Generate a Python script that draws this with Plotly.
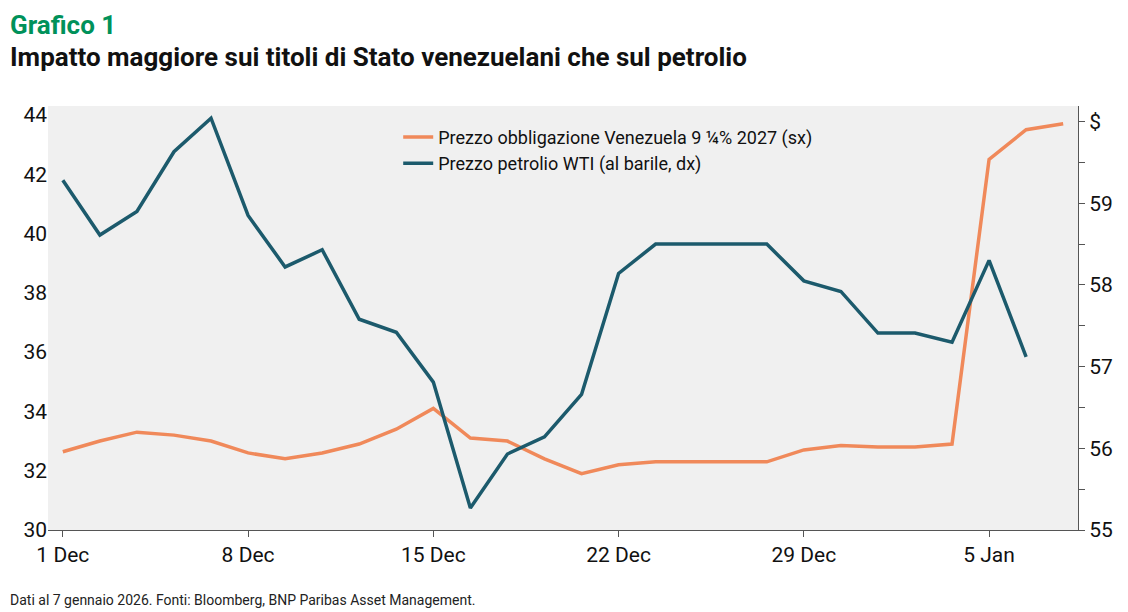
import plotly.graph_objects as go

dates = ["1 Dec", "2 Dec", "3 Dec", "4 Dec", "5 Dec", "8 Dec", "9 Dec", "10 Dec", "11 Dec", "12 Dec",
         "15 Dec", "16 Dec", "17 Dec", "18 Dec", "19 Dec", "22 Dec", "23 Dec", "24 Dec", "25 Dec", "26 Dec",
         "29 Dec", "30 Dec", "31 Dec", "1 Jan", "2 Jan", "5 Jan", "6 Jan", "7 Jan"]
bond = [32.64, 33.0, 33.3, 33.2, 33.0, 32.6, 32.4, 32.6, 32.9, 33.4,
        34.1, 33.1, 33.0, 32.4, 31.9, 32.2, 32.3, 32.3, 32.3, 32.3,
        32.7, 32.85, 32.8, 32.8, 32.9, 42.5, 43.5, 43.7]
wti = [59.28, 58.61, 58.90, 59.63, 60.04, 58.85, 58.22, 58.43, 57.58, 57.42,
       56.81, 55.27, 55.93, 56.14, 56.66, 58.14, 58.50, 58.50, 58.50, 58.50,
       58.05, 57.92, 57.41, 57.41, 57.30, 58.30, 57.12]
tick_idx = [0, 5, 10, 15, 20, 25]

orange = "#f0895a"
teal = "#1c5a6c"

fig = go.Figure()
fig.add_trace(go.Scatter(x=list(range(len(bond))), y=bond, mode="lines",
                         line=dict(color=orange, width=3.5),
                         name="Prezzo obbligazione Venezuela 9 ¼% 2027 (sx)"))
fig.add_trace(go.Scatter(x=list(range(len(wti))), y=wti, mode="lines",
                         line=dict(color=teal, width=3.5), yaxis="y2",
                         name="Prezzo petrolio WTI (al barile, dx)"))

fig.update_layout(
    width=1128, height=612,
    margin=dict(l=40, r=58, t=98, b=90),
    paper_bgcolor="white", plot_bgcolor="#f0f0f0",
    font=dict(family="Roboto", color="#111", size=20),
    showlegend=True,
    legend=dict(x=0.34, y=0.97, xanchor="left", yanchor="top", bgcolor="rgba(0,0,0,0)",
                font=dict(size=18), tracegroupgap=20),
    xaxis=dict(range=[-0.4, 27.4], tickmode="array", tickvals=tick_idx,
               ticktext=[dates[i] for i in tick_idx], showgrid=False, zeroline=False,
               showline=True, linecolor="#555", ticks="outside", tickcolor="#555",
               ticklen=6, tickfont=dict(size=21)),
    yaxis=dict(range=[30, 44.3], tickvals=list(range(30, 45, 2)), showgrid=False,
               zeroline=False, showline=False, ticks="", tickfont=dict(size=21)),
    yaxis2=dict(range=[55, 60.19], overlaying="y", side="right",
                tickvals=[55, 56, 57, 58, 59, 60], ticktext=["55", "56", "57", "58", "59", "$"],
                showgrid=False, zeroline=False, showline=True, linecolor="#555",
                ticks="outside", tickcolor="#555", ticklen=6, tickfont=dict(size=21),
                minor=dict(tickvals=[55.5, 56.5, 57.5, 58.5, 59.5], ticks="outside",
                           ticklen=6, tickcolor="#555")),
)

fig.add_annotation(text="<b>Grafico 1</b>", x=0, y=1, xref="paper", yref="paper",
                   xshift=-40, yshift=98, xanchor="left", yanchor="top", showarrow=False,
                   font=dict(size=26, color="#00915a"))
fig.add_annotation(text="<b>Impatto maggiore sui titoli di Stato venezuelani che sul petrolio</b>",
                   x=0, y=1, xref="paper", yref="paper", xshift=-40, yshift=66,
                   xanchor="left", yanchor="top", showarrow=False,
                   font=dict(size=26, color="#111"))
fig.add_annotation(text="Dati al 7 gennaio 2026. Fonti: Bloomberg, BNP Paribas Asset Management.",
                   x=0, y=0, xref="paper", yref="paper", xshift=-40, yshift=-60,
                   xanchor="left", yanchor="top", showarrow=False,
                   font=dict(size=14, color="#222"))

fig.write_html("out.html")
